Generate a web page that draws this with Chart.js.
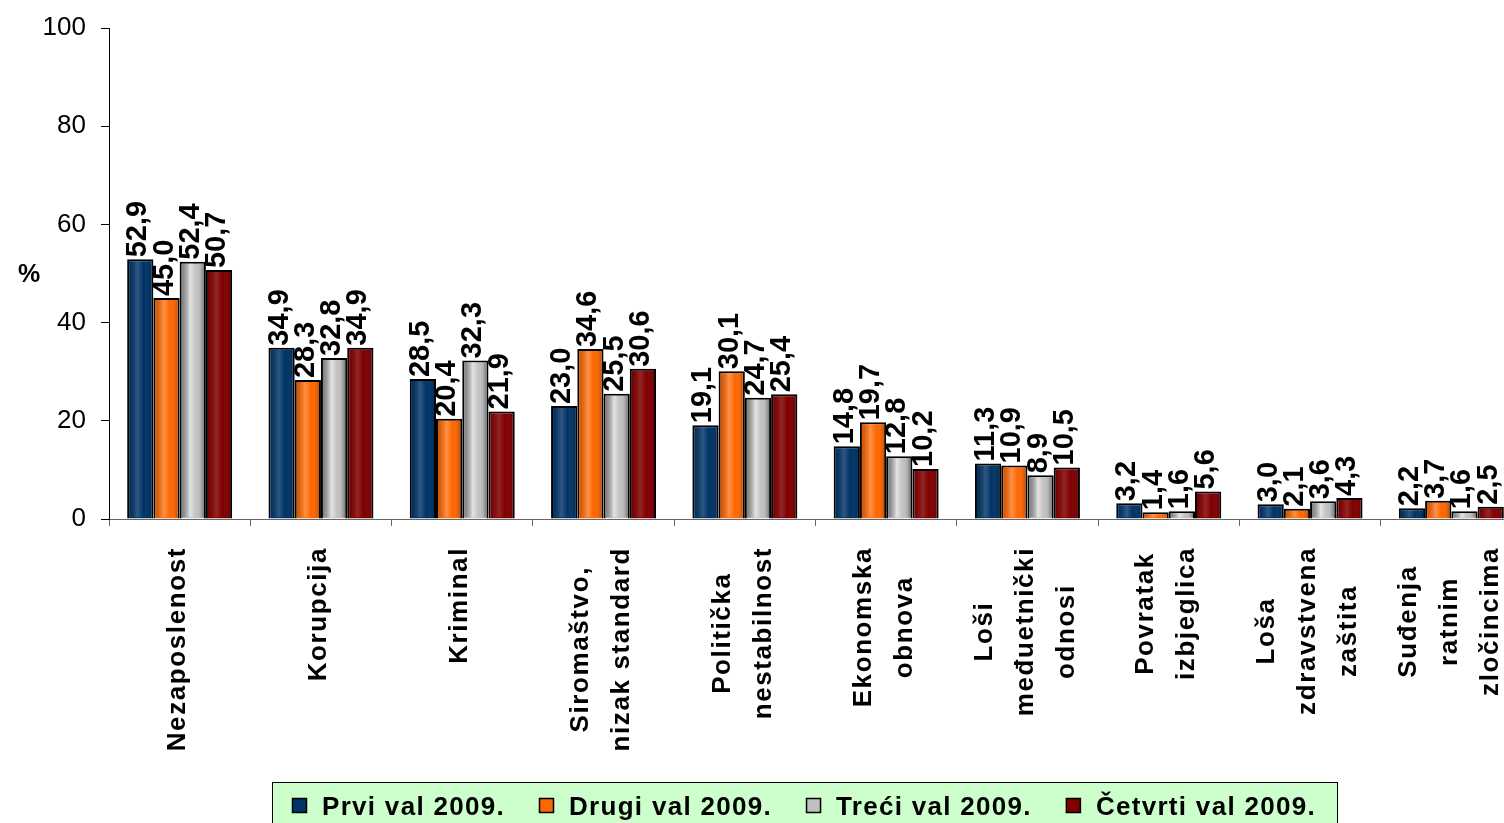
<!DOCTYPE html>
<html><head><meta charset="utf-8">
<script src="https://cdn.jsdelivr.net/npm/chart.js@4.4.1/dist/chart.umd.min.js"></script>
<style>html,body{margin:0;padding:0;overflow:hidden;background:#fff;width:1504px;height:823px}canvas{display:block}</style>
</head><body>
<canvas id="c" width="1530" height="823" style="width:1530px;height:823px"></canvas>
<script>
// ---- data ----
const categories = [['Nezaposlenost'],['Korupcija'],['Kriminal'],['Siromaštvo,','nizak standard'],['Politička','nestabilnost'],['Ekonomska','obnova'],['Loši','međuetnički','odnosi'],['Povratak','izbjeglica'],['Loša','zdravstvena','zaštita'],['Suđenja','ratnim','zločincima']];
const seriesNames = ['Prvi val 2009.','Drugi val 2009.','Treći val 2009.','Četvrti val 2009.'];
const prviVal    = [52.9,34.9,28.5,23.0,19.1,14.8,11.3,3.2,3.0,2.2];
const drugiVal   = [45.0,28.3,20.4,34.6,30.1,19.7,10.9,1.4,2.1,3.7];
const treciVal   = [52.4,32.8,32.3,25.5,24.7,12.8,8.9,1.6,3.6,1.6];
const cetvrtiVal = [50.7,34.9,21.9,30.6,25.4,10.2,10.5,5.6,4.3,2.5];
const yTicks = [0,20,40,60,80,100];
const yTitle = '%';

// ---- style ----
const colors = ['#003366','#FF6600','#C0C0C0','#800000'];
const shade = [0.18,0.28,0.55,0.15];
const FONT = '"Liberation Sans", Arial, Helvetica, sans-serif';
const LEFT = 109, BOTTOM = 519, CW = 1530, CH = 823;

function setSpacing(ctx, px){ if ('letterSpacing' in ctx) { ctx.letterSpacing = px + 'px'; return true; } return false; }

const decor = {
  id: 'decor',
  afterDatasetsDraw(chart) {
    const ctx = chart.ctx;
    chart.data.datasets.forEach((ds, di) => {
      const meta = chart.getDatasetMeta(di);
      meta.data.forEach((el, i) => {
        const p = el.getProps(['x','y','base','width'], true);
        const l = p.x - p.width/2 + 2, r = p.x + p.width/2 - 2;
        const t = p.y + 2, b = p.base - 1;
        if (b > t && r > l) {
          const s = shade[di];
          const g = ctx.createLinearGradient(l, 0, r, 0);
          g.addColorStop(0, 'rgba(0,0,0,' + (s*0.6) + ')');
          g.addColorStop(0.38, 'rgba(255,255,255,' + s + ')');
          g.addColorStop(0.65, 'rgba(255,255,255,0)');
          g.addColorStop(1, 'rgba(0,0,0,' + (s*0.7) + ')');
          ctx.save(); ctx.fillStyle = g; ctx.fillRect(l, t, r - l, b - t); ctx.restore();
        }
        // value label
        const txt = ds.data[i].toFixed(1).replace('.', ',');
        ctx.save();
        ctx.font = 'bold 29px ' + FONT;
        ctx.fillStyle = '#000';
        ctx.translate(p.x - 2, p.y - 2);
        ctx.rotate(-Math.PI/2);
        ctx.textAlign = 'left';
        ctx.textBaseline = 'middle';
        ctx.fillText(txt, 0, 0);
        ctx.restore();
      });
    });
  },
  afterDraw(chart) {
    const ctx = chart.ctx;
    const xs = chart.scales.x;
    // category labels
    ctx.save();
    ctx.font = 'bold 26px ' + FONT;
    ctx.fillStyle = '#000';
    const sp = setSpacing(ctx, 1.6);
    chart.data.labels.forEach((lines, i) => {
      const cx = xs.getPixelForValue(i);
      const n = lines.length, pitch = 41;
      const widths = lines.map(s => ctx.measureText(s).width * (sp ? 1 : 1.1));
      const maxW = Math.max(...widths);
      const cy = 547 + maxW/2;
      lines.forEach((ln, k) => {
        const lx = cx + (k - (n-1)/2) * pitch - 2;
        ctx.save();
        ctx.translate(lx, cy);
        ctx.rotate(-Math.PI/2);
        if (!sp) ctx.scale(1.1, 1);
        ctx.textAlign = 'center';
        ctx.textBaseline = 'middle';
        ctx.fillText(ln, 0, 0);
        ctx.restore();
      });
    });
    ctx.restore();
    // y title
    ctx.save();
    ctx.font = 'bold 25px ' + FONT;
    ctx.fillStyle = '#000';
    ctx.textAlign = 'center'; ctx.textBaseline = 'middle';
    ctx.fillText(yTitle, 29, (chart.chartArea.top + chart.chartArea.bottom)/2 + 2);
    ctx.restore();
    // legend
    ctx.save();
    ctx.fillStyle = '#CCFFCC';
    ctx.fillRect(272.5, 782.5, 1065, 60);
    ctx.strokeStyle = '#000'; ctx.lineWidth = 1;
    ctx.strokeRect(272.5, 782.5, 1065, 60);
    ctx.font = 'bold 26px ' + FONT;
    const sp2 = setSpacing(ctx, 1.3);
    let x = 292;
    chart.data.datasets.forEach((ds, di) => {
      ctx.fillStyle = colors[di];
      ctx.fillRect(x + 0.5, 798.5, 14, 14);
      ctx.strokeStyle = '#000'; ctx.lineWidth = 1.5;
      ctx.strokeRect(x + 0.5, 798.5, 14, 14);
      ctx.fillStyle = '#000';
      ctx.textAlign = 'left'; ctx.textBaseline = 'alphabetic';
      const tx = x + 30;
      let w = ctx.measureText(ds.label).width;
      if (sp2) { ctx.fillText(ds.label, tx, 815); }
      else { ctx.save(); ctx.translate(tx, 815); ctx.scale(1.1, 1); ctx.fillText(ds.label, 0, 0); ctx.restore(); w *= 1.1; }
      x = tx + w + 34;
    });
    ctx.restore();
  }
};

const seriesValues = [prviVal, drugiVal, treciVal, cetvrtiVal];
new Chart(document.getElementById('c'), {
  type: 'bar',
  data: {
    labels: categories,
    datasets: seriesNames.map((name, i) => ({
      label: name,
      data: seriesValues[i],
      backgroundColor: colors[i],
      borderColor: '#000',
      borderWidth: 2,
      categoryPercentage: 0.743,
      barPercentage: 1.0
    }))
  },
  options: {
    responsive: false,
    animation: false,
    devicePixelRatio: 1,
    layout: { padding: { top: 28, right: 8, left: 0, bottom: 0 } },
    plugins: { legend: { display: false }, tooltip: { enabled: false }, title: { display: false } },
    scales: {
      x: {
        offset: true,
        grid: { offset: true, drawOnChartArea: false, drawTicks: true, tickLength: 7, color: '#666' },
        border: { display: true, color: '#666', width: 1 },
        ticks: { callback: () => '', autoSkip: false, maxRotation: 0 },
        afterFit(scale) { scale.height = CH - BOTTOM; scale.paddingLeft = 0; scale.paddingRight = 0; }
      },
      y: {
        min: 0, max: 100,
        afterBuildTicks(scale) { scale.ticks = yTicks.map(v => ({ value: v })); },
        grid: { drawOnChartArea: false, drawTicks: true, tickLength: 8, color: '#000' },
        border: { display: true, color: '#000', width: 1 },
        ticks: { color: '#000', padding: 15, font: { family: FONT, size: 26 } },
        afterFit(scale) { scale.width = LEFT; scale.paddingTop = 0; scale.paddingBottom = 0; }
      }
    }
  },
  plugins: [decor]
});
</script>
</body></html>
